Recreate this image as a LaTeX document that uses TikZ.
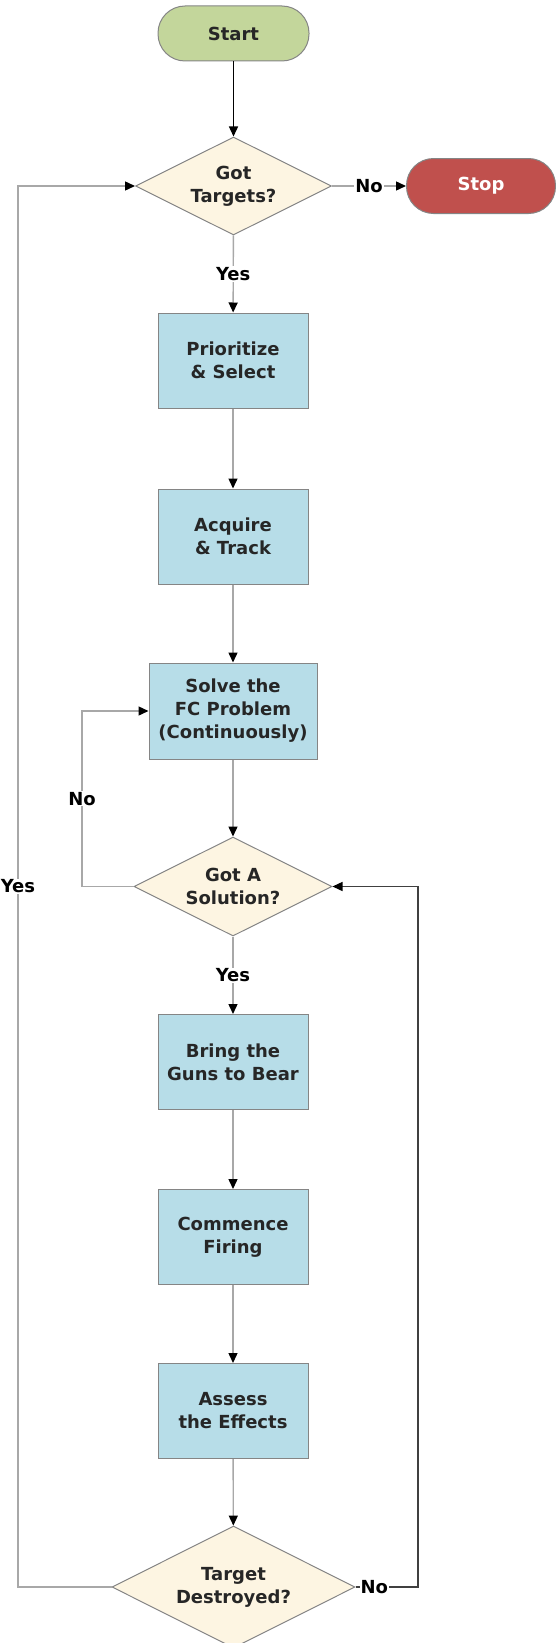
\documentclass[tikz,border=0pt]{standalone}
\usepackage{fontspec}
\setmainfont{DejaVu Sans}
\usetikzlibrary{shapes.geometric,arrows.meta}

\definecolor{startgreen}{HTML}{C3D69B}
\definecolor{stopred}{HTML}{C0504D}
\definecolor{boxblue}{HTML}{B7DDE8}
\definecolor{decisioncream}{HTML}{FDF5E2}
\definecolor{edgegray}{HTML}{858585}
\definecolor{linegray}{HTML}{A8A8A8}
\definecolor{textdark}{HTML}{262626}

\tikzset{
  base/.style={draw=edgegray, line width=1pt, align=center, text=textdark,
    font=\fontsize{18}{23}\selectfont\bfseries},
  terminal/.style={base, rectangle, rounded corners=27pt, minimum height=55pt},
  process/.style={base, rectangle, fill=boxblue, minimum width=150pt, minimum height=95pt, inner sep=2pt},
  decision/.style={base, diamond, aspect=2, fill=decisioncream, inner sep=0pt},
  conn/.style={draw=linegray, line width=1.4pt, -{Triangle[color=black, length=10pt, width=9pt]}},
  conndark/.style={conn, draw=black!75},
  lbl/.style={fill=white, inner sep=1pt, text=black, font=\fontsize{18}{23}\selectfont\bfseries}
}

\begin{document}
\begin{tikzpicture}[x=1pt, y=-1pt]
    \useasboundingbox (0,0) rectangle (556,1643);

    % start / stop
    \node[terminal, fill=startgreen, minimum width=151pt] (start) at (233.5,33.5) {Start};
    \node[terminal, fill=stopred, minimum width=149pt, text=white] (stop) at (481,186) {Stop};

    % decisions
    \node[decision, minimum width=196pt, minimum height=98pt] (tgt) at (233.5,186) {Got\\Targets?};
    \node[decision, minimum width=198pt, minimum height=99pt] (sol) at (233,886.5) {Got A\\Solution?};
    \node[decision, minimum width=243pt, minimum height=122pt] (dest) at (233.5,1587) {Target\\Destroyed?};

    % process steps
    \foreach \nm/\yy/\txt in {prio/360.5/{Prioritize\\\& Select}, acq/536.5/{Acquire\\\& Track},
        bring/1062/{Bring the\\Guns to Bear}, fire/1237/{Commence\\Firing}, assess/1411/{Assess\\the Effects}}
        \node[process] (\nm) at (233,\yy) {\txt};
    \node[process, minimum width=168pt, minimum height=96pt] (solve) at (233,711) {Solve the\\FC Problem\\(Continuously)};

    % main flow
    \draw[conn, draw=black] (start) -- (tgt);
    \draw[conn] (tgt) -- node[lbl] {Yes} (prio);
    \draw[conn] (tgt) -- node[lbl] {No} (stop);
    \draw[conn] (prio) -- (acq);
    \draw[conn] (acq) -- (solve);
    \draw[conn] (solve) -- (sol);
    \draw[conn] (sol) -- node[lbl] {Yes} (bring);
    \draw[conn] (bring) -- (fire);
    \draw[conn] (fire) -- (assess);
    \draw[conn] (assess) -- (dest);

    % loops
    \coordinate (nloop) at (82,886.5);
    \coordinate (lloop) at (18,1587);
    \coordinate (rloop) at (418,1587);
    \draw[conn] (sol.west) -- (nloop) |- node[lbl, pos=0.25] {No} (solve.west);
    \draw[conn] (dest.west) -- (lloop) |- node[lbl, pos=0.25] {Yes} (tgt.west);
    \draw[conndark] (dest.east) -- node[lbl, pos=0.3] {No} (rloop) |- (sol.east);

\end{tikzpicture}
\end{document}
